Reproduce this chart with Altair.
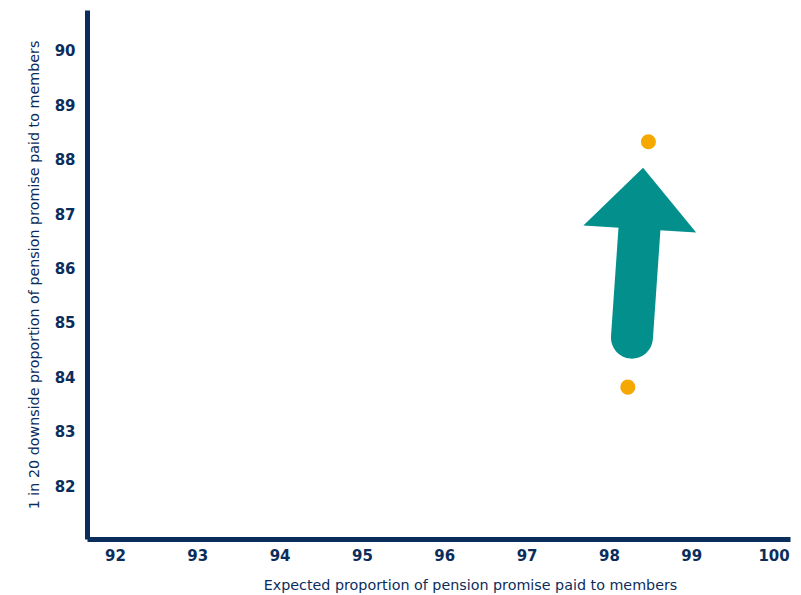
import altair as alt
import pandas as pd

# Data
pt_x = [98.23, 98.48]
pt_y = [83.82, 88.33]

shaft_x = [98.28, 98.37]
shaft_y = [84.73, 86.70]

head_x = [97.69, 98.415, 99.06]
head_top = [86.79, 87.85, 86.66]
head_bot = [86.79, 86.72, 86.66]

x_ticks = [92, 93, 94, 95, 96, 97, 98, 99, 100]
y_ticks = [82, 83, 84, 85, 86, 87, 88, 89, 90]

NAVY = "#0b2d5b"
TEAL = "#038f8c"
ORANGE = "#f5a800"

xs = alt.Scale(domain=[91.66, 100.2], zero=False, nice=False)
ys = alt.Scale(domain=[81.03, 90.75], zero=False, nice=False)

LABEL_FONT = "DejaVu Sans"
TITLE_FONT = "DejaVu Sans"

xaxis = alt.Axis(values=x_ticks, format="d", title="Expected proportion of pension promise paid to members",
                 grid=False, ticks=False, domainColor=NAVY, domainWidth=5,
                 labelFont=LABEL_FONT, labelFontWeight="bold", labelFontSize=15,
                 labelColor=NAVY, labelPadding=9, titleFont=TITLE_FONT,
                 titleFontWeight="normal", titleFontSize=14.3, titleColor=NAVY,
                 titlePadding=15, titleX=383, labelFlush=False)
yaxis = alt.Axis(values=y_ticks, format="d", title="1 in 20 downside proportion of pension promise paid to members",
                 grid=False, ticks=False, domainColor=NAVY, domainWidth=5,
                 labelFont=LABEL_FONT, labelFontWeight="bold", labelFontSize=15,
                 labelColor=NAVY, labelPadding=12, titleFont=TITLE_FONT,
                 titleFontWeight="normal", titleFontSize=14.3, titleColor=NAVY,
                 titlePadding=13, labelFlush=False)

pts = pd.DataFrame({"x": pt_x, "y": pt_y})
shaft = pd.DataFrame({"x": shaft_x, "y": shaft_y})
head = pd.DataFrame({"x": head_x, "y": head_top, "y2": head_bot})

shaft_layer = alt.Chart(shaft).mark_line(color=TEAL, strokeWidth=42, strokeCap="round").encode(
    x=alt.X("x:Q", scale=xs, axis=xaxis),
    y=alt.Y("y:Q", scale=ys, axis=yaxis),
)
head_layer = alt.Chart(head).mark_area(color=TEAL, opacity=1).encode(
    x=alt.X("x:Q", scale=xs),
    y=alt.Y("y:Q", scale=ys),
    y2="y2:Q",
)
pt_layer = alt.Chart(pts).mark_circle(color=ORANGE, opacity=1, size=227).encode(
    x=alt.X("x:Q", scale=xs),
    y=alt.Y("y:Q", scale=ys),
)

chart = alt.layer(shaft_layer, head_layer, pt_layer).properties(
    width=703, height=529,
    autosize=alt.AutoSizeParams(type="none"),
    padding={"left": 87, "top": 10, "right": 11, "bottom": 56},
    background="white",
).configure_view(stroke=None)

chart.save("out.html", embed_options={"renderer": "svg", "actions": False})
